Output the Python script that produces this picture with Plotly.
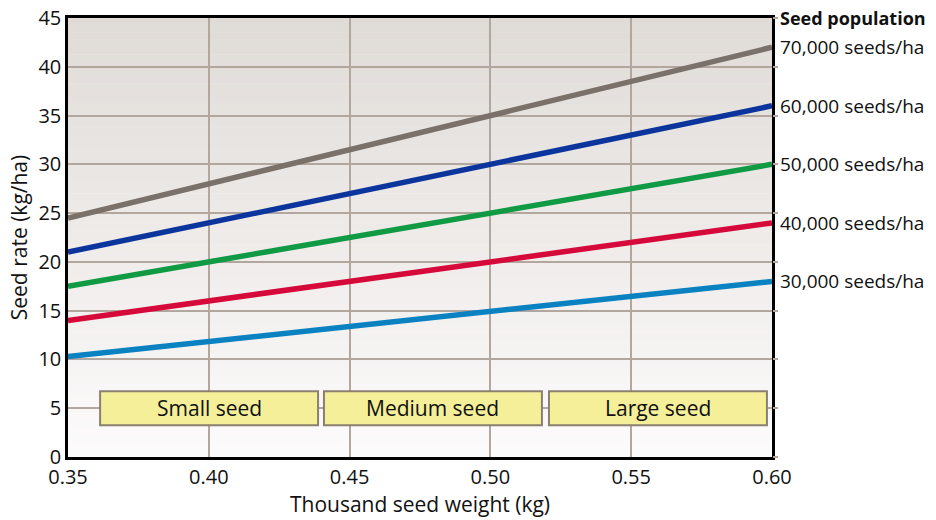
import plotly.graph_objects as go

# ---- data ----
tsw = [0.35, 0.60]  # thousand seed weight (kg)
populations = ["70,000 seeds/ha", "60,000 seeds/ha", "50,000 seeds/ha",
               "40,000 seeds/ha", "30,000 seeds/ha"]
rate_70k = [24.5, 42.0]
rate_60k = [21.0, 36.0]
rate_50k = [17.5, 30.0]
rate_40k = [14.0, 24.0]
rate_30k = [10.3, 18.0]
series = [rate_70k, rate_60k, rate_50k, rate_40k, rate_30k]
colors = ["#7b716b", "#0b359c", "#0f9a43", "#d50a3a", "#0a82c2"]

seed_classes = ["Small seed", "Medium seed", "Large seed"]
class_x0 = [0.3614, 0.4409, 0.5208]
class_x1 = [0.4388, 0.5183, 0.5982]
class_y0 = 3.25
class_y1 = 6.75

x_ticks = [0.35, 0.40, 0.45, 0.50, 0.55, 0.60]
y_ticks = list(range(0, 46, 5))

FONT = "Open Sans"
GRID = "#b2a79e"

fig = go.Figure()

# gradient background via stacked strips
n = 60
top = (224, 219, 215)
bot = (252, 251, 251)
shapes = []
for i in range(n):
    t = i / (n - 1)
    c = tuple(round(top[k] + (bot[k] - top[k]) * t) for k in range(3))
    shapes.append(dict(type="rect", xref="paper", yref="paper",
                       x0=0, x1=1, y0=1 - (i + 1) / n, y1=1 - i / n + 0.001,
                       fillcolor="rgb(%d,%d,%d)" % c, line=dict(width=0),
                       layer="below"))

for name, ys, col in zip(populations, series, colors):
    fig.add_trace(go.Scatter(x=tsw, y=ys, mode="lines", name=name,
                             line=dict(color=col, width=5.5),
                             showlegend=False, hoverinfo="skip"))
    fig.add_annotation(x=1, xref="paper", y=ys[-1], yref="y",
                       text=name, showarrow=False, xanchor="left",
                       xshift=6, font=dict(family=FONT, size=19, color="#111"))

# invisible trace for right axis
fig.add_trace(go.Scatter(x=tsw, y=[0, 45], yaxis="y2", mode="markers",
                         marker=dict(opacity=0), showlegend=False,
                         hoverinfo="skip"))

fig.add_annotation(x=1, xref="paper", y=1, yref="paper", text="<b>Seed population</b>",
                   showarrow=False, xanchor="left", yanchor="middle", xshift=6,
                   font=dict(family=FONT, size=18, color="#111"))

for label, x0, x1 in zip(seed_classes, class_x0, class_x1):
    shapes.append(dict(type="rect", xref="x", yref="y", x0=x0, x1=x1,
                       y0=class_y0, y1=class_y1, fillcolor="#f5ef9a",
                       line=dict(color="#8a8070", width=2), layer="above"))
    fig.add_annotation(x=(x0 + x1) / 2, y=(class_y0 + class_y1) / 2,
                       xref="x", yref="y", text=label, showarrow=False,
                       font=dict(family=FONT, size=21, color="#111"))

fig.update_layout(
    width=936, height=520,
    margin=dict(l=68, r=164, t=18, b=63, autoexpand=False),
    paper_bgcolor="white", plot_bgcolor="rgba(0,0,0,0)",
    shapes=shapes,
    font=dict(family=FONT, size=20, color="#111"),
    xaxis=dict(range=[0.35, 0.60], tickvals=x_ticks,
               ticktext=["%.2f" % v for v in x_ticks],
               showgrid=True, gridcolor=GRID, gridwidth=2,
               showline=True, linecolor="black", linewidth=2.5, mirror=True,
               ticks="", zeroline=False, automargin=False,
               title=dict(text="Thousand seed weight (kg)", standoff=2,
                          font=dict(size=21)),
               tickfont=dict(size=20)),
    yaxis=dict(range=[0, 45], tickvals=y_ticks, showgrid=True,
               gridcolor=GRID, gridwidth=2,
               showline=True, linecolor="black", linewidth=2.5, mirror=True,
               ticks="", zeroline=False, automargin=False,
               title=dict(text="Seed rate (kg/ha)", standoff=6,
                          font=dict(size=21)),
               tickfont=dict(size=20)),
    yaxis2=dict(range=[0, 45], tickvals=y_ticks, overlaying="y", side="right",
                showticklabels=False, ticks="outside", ticklen=5,
                tickcolor=GRID, tickwidth=2, showgrid=False, zeroline=False,
                showline=False, automargin=False),
)

fig.write_html("out.html", config={"displayModeBar": False},
               post_script="document.body.style.margin='0';document.body.style.overflow='hidden';")
